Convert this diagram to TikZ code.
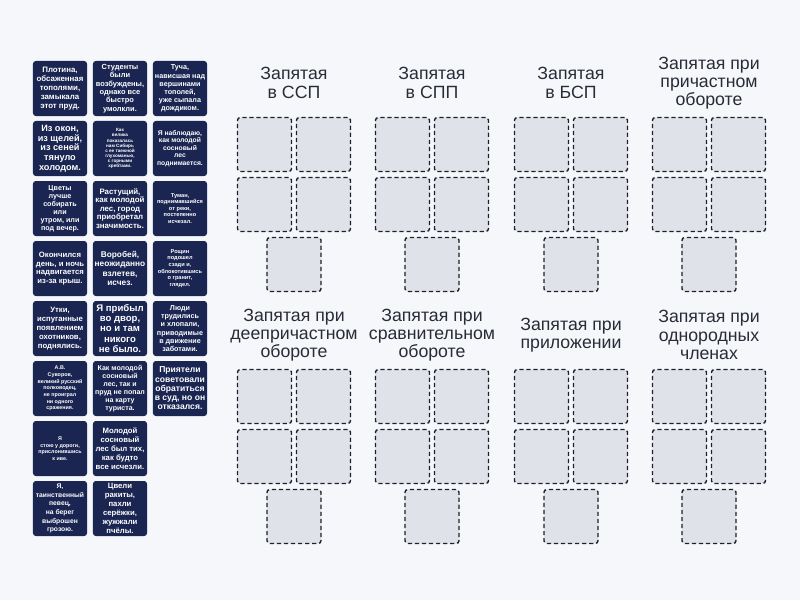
\documentclass[tikz,border=0pt]{standalone}
\usepackage{fontspec}
\setmainfont{Liberation Sans}
\newfontfamily\cardface{Liberation Sans}

\definecolor{pagebg}{RGB}{245,247,251}
\definecolor{cardblue}{RGB}{26,37,82}
\definecolor{slotgray}{RGB}{224,226,234}
\definecolor{slotline}{RGB}{30,33,42}
\definecolor{titlegray}{RGB}{40,44,54}

\newcommand{\cardfs}[2]{\cardface\bfseries\fontsize{#1pt}{#2pt}\selectfont}

\tikzset{
  card/.style={rectangle,rounded corners=2pt,fill=cardblue,text=white,
    minimum width=1.35cm,minimum height=1.375cm,inner sep=0pt,align=center},
  slot/.style={rectangle,rounded corners=2pt,fill=slotgray,draw=slotline,
    dash pattern=on 3pt off 2pt,line width=1pt,minimum size=1.35cm,inner sep=0pt},
  heading/.style={align=center,text=titlegray,font=\fontsize{12.6}{13}\selectfont}
}

\begin{document}
\begin{tikzpicture}
      [x=0.025cm,y=-0.025cm]
	\fill[pagebg] (0,0) rectangle (800,600);
	\useasboundingbox (0,0) rectangle (800,600);

	% cards to sort
	\node (c1)  [card,font=\cardfs{5.6}{6.4}] at (60,88.5)  {Плотина,\\обсаженная\\тополями,\\замыкала\\этот пруд.};
	\node (c2)  [card,font=\cardfs{5.3}{6.0}] at (120,88.5) {Студенты\\были\\возбуждены,\\однако все\\быстро\\умолкли.};
	\node (c3)  [card,font=\cardfs{5.1}{5.8}] at (180,88.5) {Туча,\\нависшая над\\вершинами\\тополей,\\уже сыпала\\дождиком.};
	\node (c4)  [card,font=\cardfs{6.5}{6.9}] at (60,148.5)  {Из окон,\\из щелей,\\из сеней\\тянуло\\холодом.};
	\node (c5)  [card,font=\cardfs{3.3}{3.6}] at (120,148.5) {Как\\велика\\показалась\\нам Сибирь\\с ее таежной\\глухоманью,\\с горными\\хребтами.};
	\node (c6)  [card,font=\cardfs{4.8}{5.4}] at (180,148.5) {Я наблюдаю,\\как молодой\\сосновый\\лес\\поднимается.};
	\node (c7)  [card,font=\cardfs{5.1}{5.7}] at (60,208.5)  {Цветы\\лучше\\собирать\\или\\утром, или\\под вечер.};
	\node (c8)  [card,font=\cardfs{5.6}{6.0}] at (120,208.5) {Растущий,\\как молодой\\лес, город\\приобретал\\значимость.};
	\node (c9)  [card,font=\cardfs{4.0}{4.6}] at (180,208.5) {Туман,\\поднимавшийся\\от реки,\\постепенно\\исчезал.};
	\node (c10) [card,font=\cardfs{5.5}{6.0}] at (60,268.5)  {Окончился\\день, и ночь\\надвигается\\из-за крыш.};
	\node (c11) [card,font=\cardfs{5.9}{6.7}] at (120,268.5) {Воробей,\\неожиданно\\взлетев,\\исчез.};
	\node (c12) [card,font=\cardfs{4.0}{4.7}] at (180,268.5) {Рощин\\подошел\\сзади и,\\облокотившись\\о гранит,\\глядел.};
	\node (c13) [card,font=\cardfs{5.5}{6.3}] at (60,328.5)  {Утки,\\испуганные\\появлением\\охотников,\\поднялись.};
	\node (c14) [card,font=\cardfs{6.8}{7.4}] at (120,328.5) {Я прибыл\\во двор,\\но и там\\никого\\не было.};
	\node (c15) [card,font=\cardfs{5.1}{5.9}] at (180,328.5) {Люди\\трудились\\и хлопали,\\приводимые\\в движение\\заботами.};
	\node (c16) [card,font=\cardfs{3.8}{4.7}] at (60,388.5)  {А.В.\\Суворов,\\великий русский\\полководец,\\не проиграл\\ни одного\\сражения.};
	\node (c17) [card,font=\cardfs{5.0}{5.6}] at (120,388.5) {Как молодой\\сосновый\\лес, так и\\пруд не попал\\на карту\\туриста.};
	\node (c18) [card,font=\cardfs{6.1}{6.6}] at (180,388.5) {Приятели\\советовали\\обратиться\\в суд, но он\\отказался.};
	\node (c19) [card,font=\cardfs{3.8}{4.7}] at (60,448.5)  {Я\\стою у дороги,\\прислонившись\\к иве.};
	\node (c20) [card,font=\cardfs{5.5}{6.3}] at (120,448.5) {Молодой\\сосновый\\лес был тих,\\как будто\\все исчезли.};
	\node (c21) [card,font=\cardfs{4.8}{6.2}] at (60,508.5)  {Я,\\таинственный\\певец,\\на берег\\выброшен\\грозою.};
	\node (c22) [card,font=\cardfs{5.5}{6.3}] at (120,508.5) {Цвели\\ракиты,\\пахли\\серёжки,\\жужжали\\пчёлы.};

	% group headings
	\node (hssp)   [heading] at (294,83)  {Запятая\\в ССП};
	\node (hspp)   [heading] at (432,83)  {Запятая\\в СПП};
	\node (hbsp)   [heading] at (571,83)  {Запятая\\в БСП};
	\node (hprich) [heading] at (709,83)  {Запятая при\\причастном\\обороте};
	\node (hdeepr) [heading] at (294,335) {Запятая при\\деепричастном\\обороте};
	\node (hsravn) [heading] at (432,335) {Запятая при\\сравнительном\\обороте};
	\node (hpril)  [heading] at (571,335) {Запятая при\\приложении};
	\node (hodn)   [heading] at (709,335) {Запятая при\\однородных\\членах};

	% empty drop slots, five per group
	\foreach \g/\gx/\gy in {1/237/117,2/375/117,3/514/117,4/652/117,
	                        5/237/369,6/375/369,7/514/369,8/652/369}
	  {
	  \node (s\g a) [slot] at ({\gx+27.5},{\gy+27.5})  {};
	  \node (s\g b) [slot] at ({\gx+86.5},{\gy+27.5})  {};
	  \node (s\g c) [slot] at ({\gx+27.5},{\gy+87.5})  {};
	  \node (s\g d) [slot] at ({\gx+86.5},{\gy+87.5})  {};
	  \node (s\g e) [slot] at ({\gx+57},{\gy+147.5}) {};
	  }
      \end{tikzpicture}
\end{document}
